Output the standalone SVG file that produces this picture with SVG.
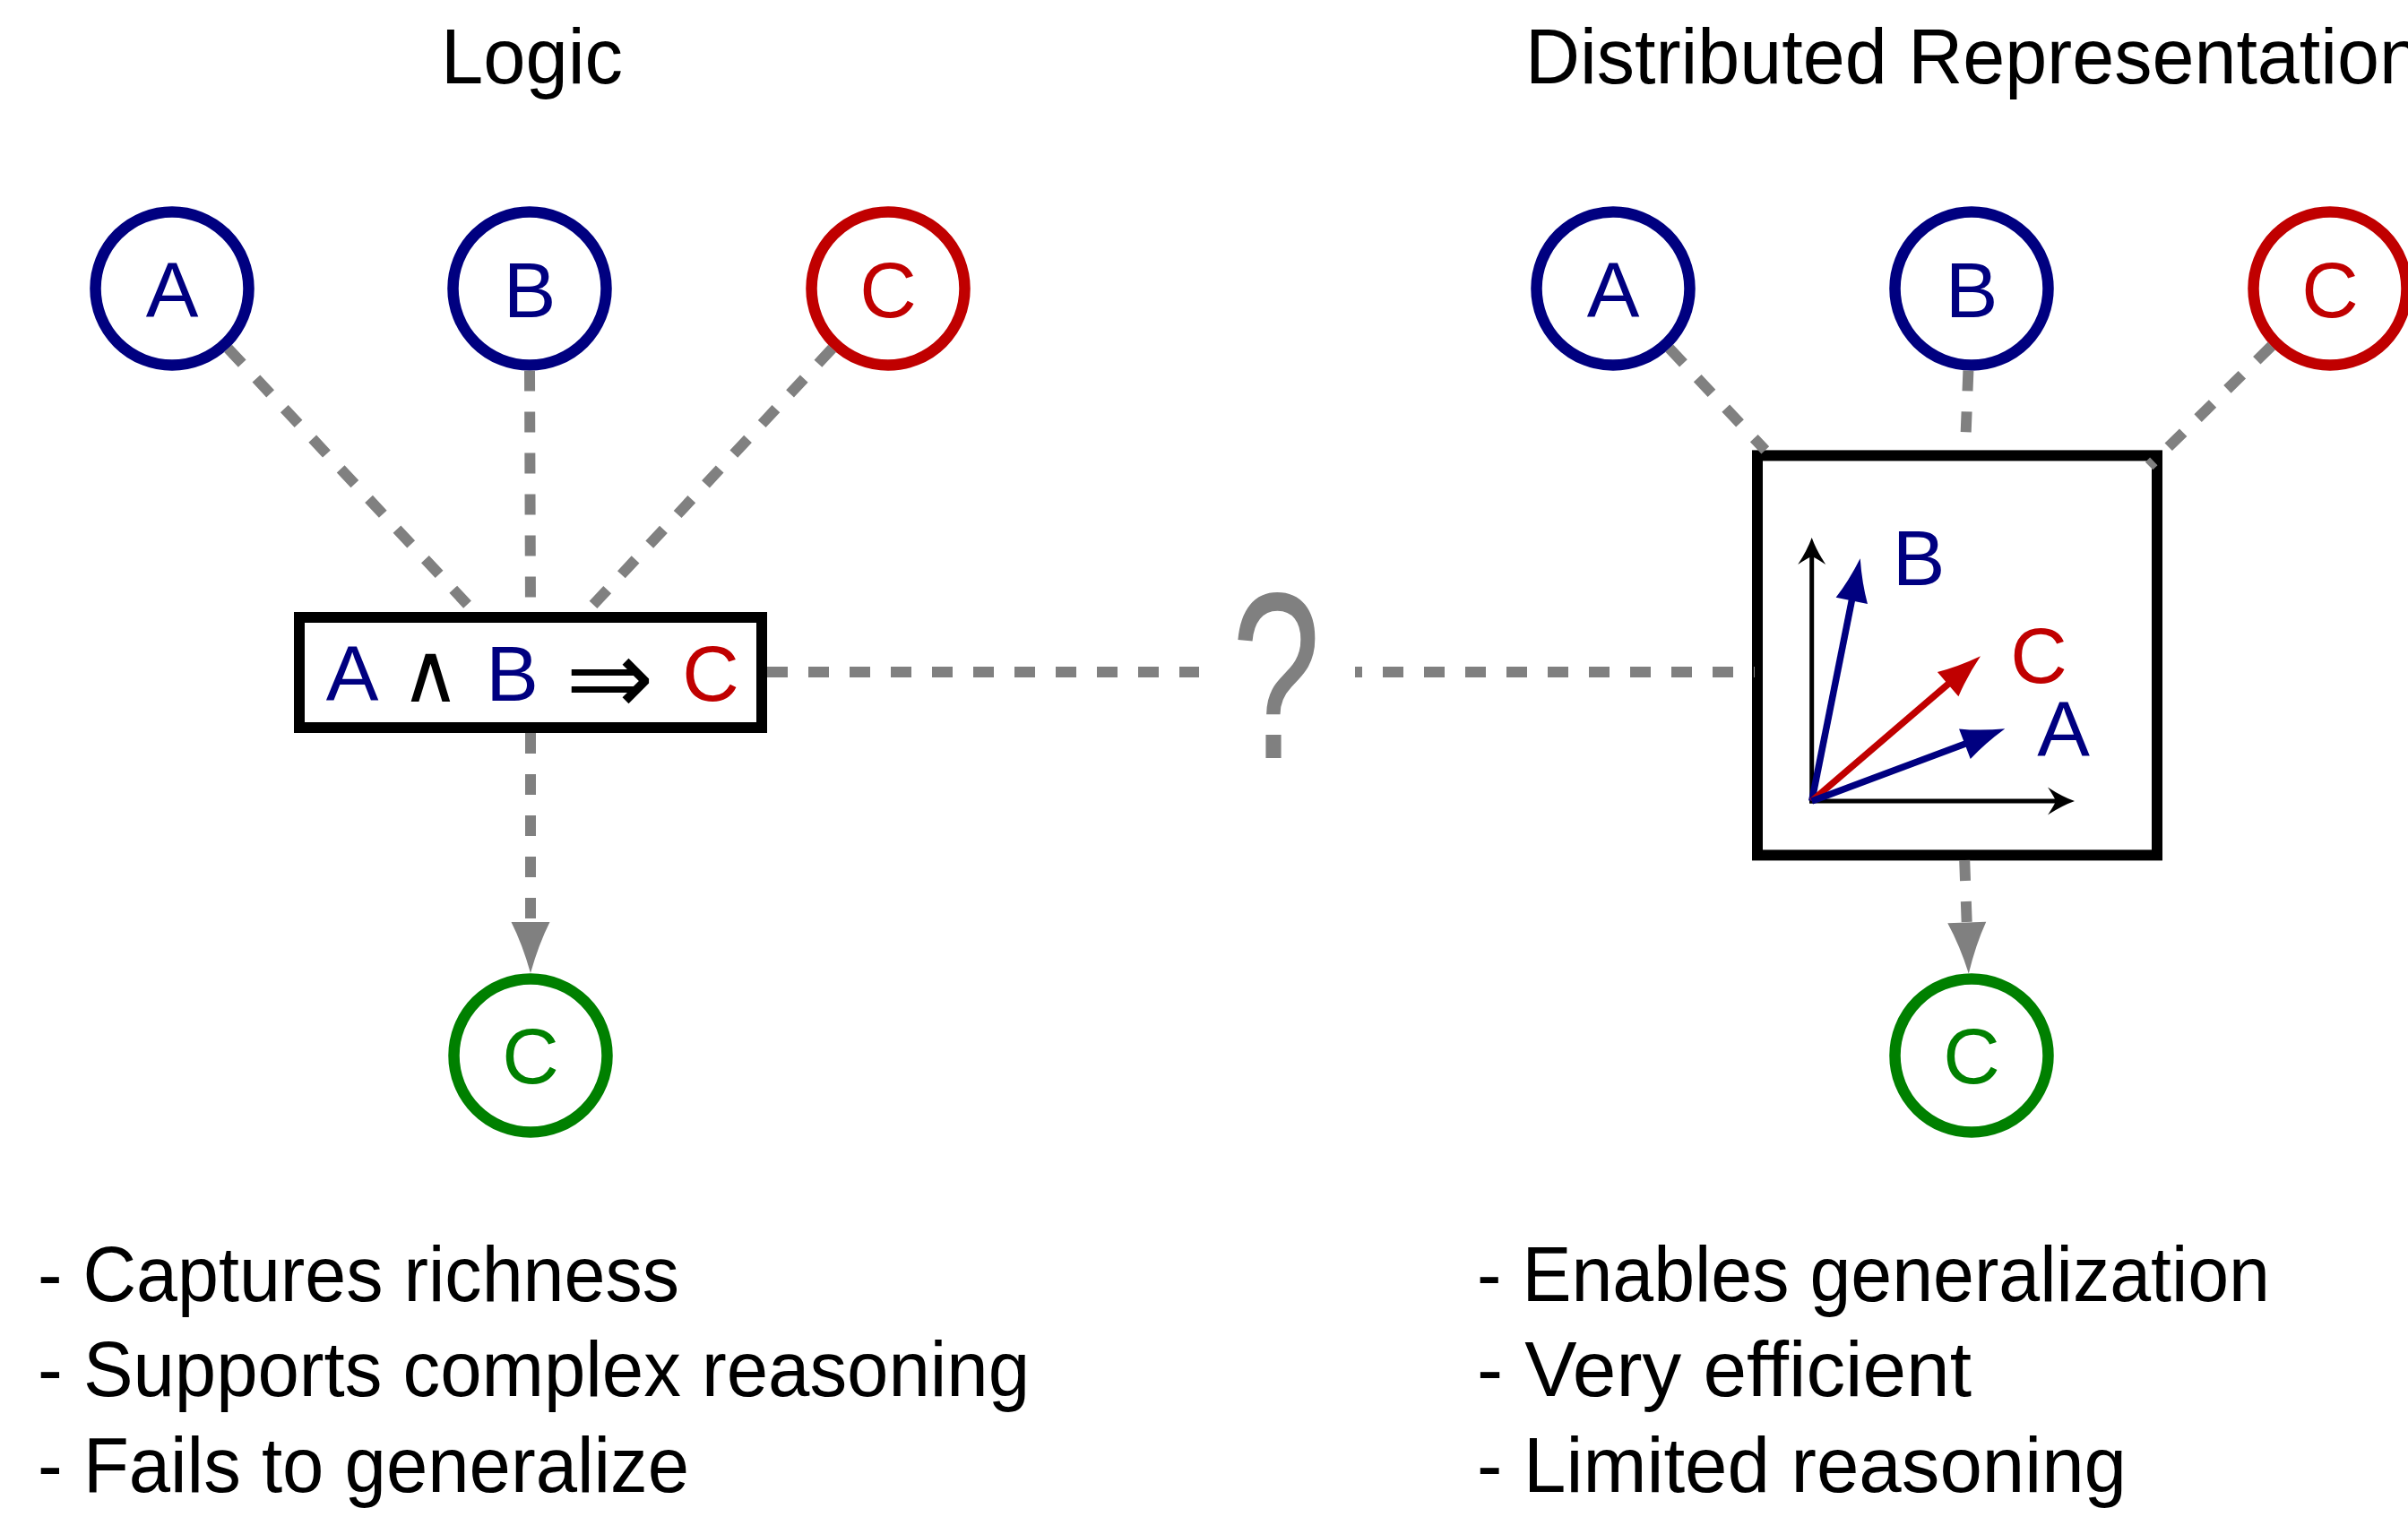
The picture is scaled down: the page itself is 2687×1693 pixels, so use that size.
<svg xmlns="http://www.w3.org/2000/svg" xmlns:xlink="http://www.w3.org/1999/xlink" width="2687" height="1693" viewBox="0 0 2687 1693">
<style>
text{font-family:"Liberation Sans",Arial,sans-serif;font-size:88px}
.mid{text-anchor:middle}
.blue{fill:#000080}
.red{fill:#C00000}
.green{fill:#008000}
.blk{fill:#000}
.node{fill:#fff;stroke-width:12.5}
.box{fill:#fff;stroke:#000;stroke-width:12}
.dash{fill:none;stroke:#808080;stroke-width:12;stroke-dasharray:23 23}
.sym{font-family:"DejaVu Sans",sans-serif}
.q{font-size:265px;fill:#808080}
</style>
<defs>
<path id="ghead" d="M0,0 Q-32,-9 -57,-21.5 L-57,21.5 Q-32,9 0,0Z"/>
<path id="vhead" d="M0,0 Q-27,-7.5 -48,-18 L-48,18 Q-27,7.5 0,0Z"/>
<path id="ahead" d="M0,0 Q-14,-5 -30,-15.5 Q-23,-5 -21,0 Q-23,5 -30,15.5 Q-14,5 0,0Z"/>
</defs>
<rect width="2687" height="1693" fill="#fff"/>

<g id="titles">
<text x="492" y="93" textLength="203" lengthAdjust="spacingAndGlyphs">Logic</text>
<text x="1702" y="93" textLength="1000" lengthAdjust="spacingAndGlyphs">Distributed Representation</text>
</g>

<g id="logic-A"><circle class="node" cx="192" cy="322" r="85.5" stroke="#000080"/><text class="mid blue" x="192" y="354">A</text></g>
<g id="logic-B"><circle class="node" cx="591" cy="322" r="85.5" stroke="#000080"/><text class="mid blue" x="591" y="354">B</text></g>
<g id="logic-C"><circle class="node" cx="991" cy="322" r="85.5" stroke="#C00000"/><text class="mid red" x="991" y="354">C</text></g>
<g id="logic-out"><circle class="node" cx="592" cy="1178" r="85.5" stroke="#008000"/><text class="mid green" x="592" y="1209">C</text></g>
<g id="logic-rule">
<rect class="box" x="334" y="689" width="516" height="123"/>
<text class="mid blue" x="393" y="782">A</text>
<text class="mid blk sym" x="480.5" y="783" style="font-size:92px">∧</text>
<text class="mid blue" x="571.5" y="782">B</text>
<text class="mid blk sym" x="680.5" y="797" style="font-size:118px">⇒</text>
<text class="mid red" x="793" y="782">C</text>
</g>

<g id="question"><text class="mid q" x="1424" y="846" textLength="100" lengthAdjust="spacingAndGlyphs">?</text></g>

<g id="dist-A"><circle class="node" cx="1800" cy="322" r="85.5" stroke="#000080"/><text class="mid blue" x="1800" y="354">A</text></g>
<g id="dist-B"><circle class="node" cx="2200" cy="322" r="85.5" stroke="#000080"/><text class="mid blue" x="2200" y="354">B</text></g>
<g id="dist-C"><circle class="node" cx="2600" cy="322" r="85.5" stroke="#C00000"/><text class="mid red" x="2600" y="354">C</text></g>
<g id="dist-out"><circle class="node" cx="2200" cy="1178" r="85.5" stroke="#008000"/><text class="mid green" x="2200" y="1209">C</text></g>
<g id="dist-space">
<rect class="box" x="1961" y="508.4" width="446" height="446"/>
<line x1="2019" y1="894" x2="2296" y2="894" stroke="#000" stroke-width="5"/>
<line x1="2021.7" y1="896.5" x2="2021.7" y2="620" stroke="#000" stroke-width="5"/>
<use xlink:href="#ahead" fill="#000" transform="translate(2315,894)"/>
<use xlink:href="#ahead" fill="#000" transform="translate(2021.7,600) rotate(-90)"/>
<line x1="2021.7" y1="894" x2="2069.8" y2="652.7" stroke="#000080" stroke-width="7.5"/>
<use xlink:href="#vhead" fill="#000080" transform="translate(2075.7,623.3) rotate(-78.7)"/>
<line x1="2021.7" y1="894" x2="2187.3" y2="751.9" stroke="#C00000" stroke-width="7.5"/>
<use xlink:href="#vhead" fill="#C00000" transform="translate(2210,732.3) rotate(-40.8)"/>
<line x1="2021.7" y1="894" x2="2209.2" y2="823.9" stroke="#000080" stroke-width="7.5"/>
<use xlink:href="#vhead" fill="#000080" transform="translate(2237.3,813.3) rotate(-20.7)"/>
<text class="mid blue" x="2141" y="653">B</text>
<text class="mid red" x="2275" y="762">C</text>
<text class="mid blue" x="2302.5" y="844">A</text>
</g>

<g id="connectors">
<line class="dash" x1="254.5" y1="388.9" x2="529.4" y2="683"/>
<line class="dash" x1="591" y1="413.5" x2="592" y2="683"/>
<line class="dash" x1="928.6" y1="388.9" x2="654.5" y2="683"/>
<line class="dash" x1="592" y1="818" x2="592" y2="1032"/>
<use xlink:href="#ghead" fill="#808080" transform="translate(592,1086) rotate(90)"/>
<line class="dash" x1="856" y1="750" x2="1338" y2="750"/>
<line class="dash" x1="1512" y1="750" x2="1958" y2="750" stroke-dashoffset="15"/>
<line class="dash" x1="1862.7" y1="388.6" x2="1969.8" y2="502.4"/>
<line class="dash" x1="2196.4" y1="413.4" x2="2192.9" y2="502.4"/>
<line class="dash" x1="2534.7" y1="386.1" x2="2398.1" y2="520"/>
<line class="dash" x1="2192.2" y1="960" x2="2194.8" y2="1033"/>
<use xlink:href="#ghead" fill="#808080" transform="translate(2196.8,1086.5) rotate(87.95)"/>
</g>

<g id="notes">
<text x="42" y="1452" textLength="716" lengthAdjust="spacingAndGlyphs">- Captures richness</text>
<text x="42" y="1558" textLength="1107" lengthAdjust="spacingAndGlyphs">- Supports complex reasoning</text>
<text x="42" y="1665" textLength="727" lengthAdjust="spacingAndGlyphs">- Fails to generalize</text>
<text x="1648" y="1452" textLength="885" lengthAdjust="spacingAndGlyphs">- Enables generalization</text>
<text x="1648" y="1558" textLength="552" lengthAdjust="spacingAndGlyphs">- Very efficient</text>
<text x="1648" y="1665" textLength="725" lengthAdjust="spacingAndGlyphs">- Limited reasoning</text>
</g>
</svg>
